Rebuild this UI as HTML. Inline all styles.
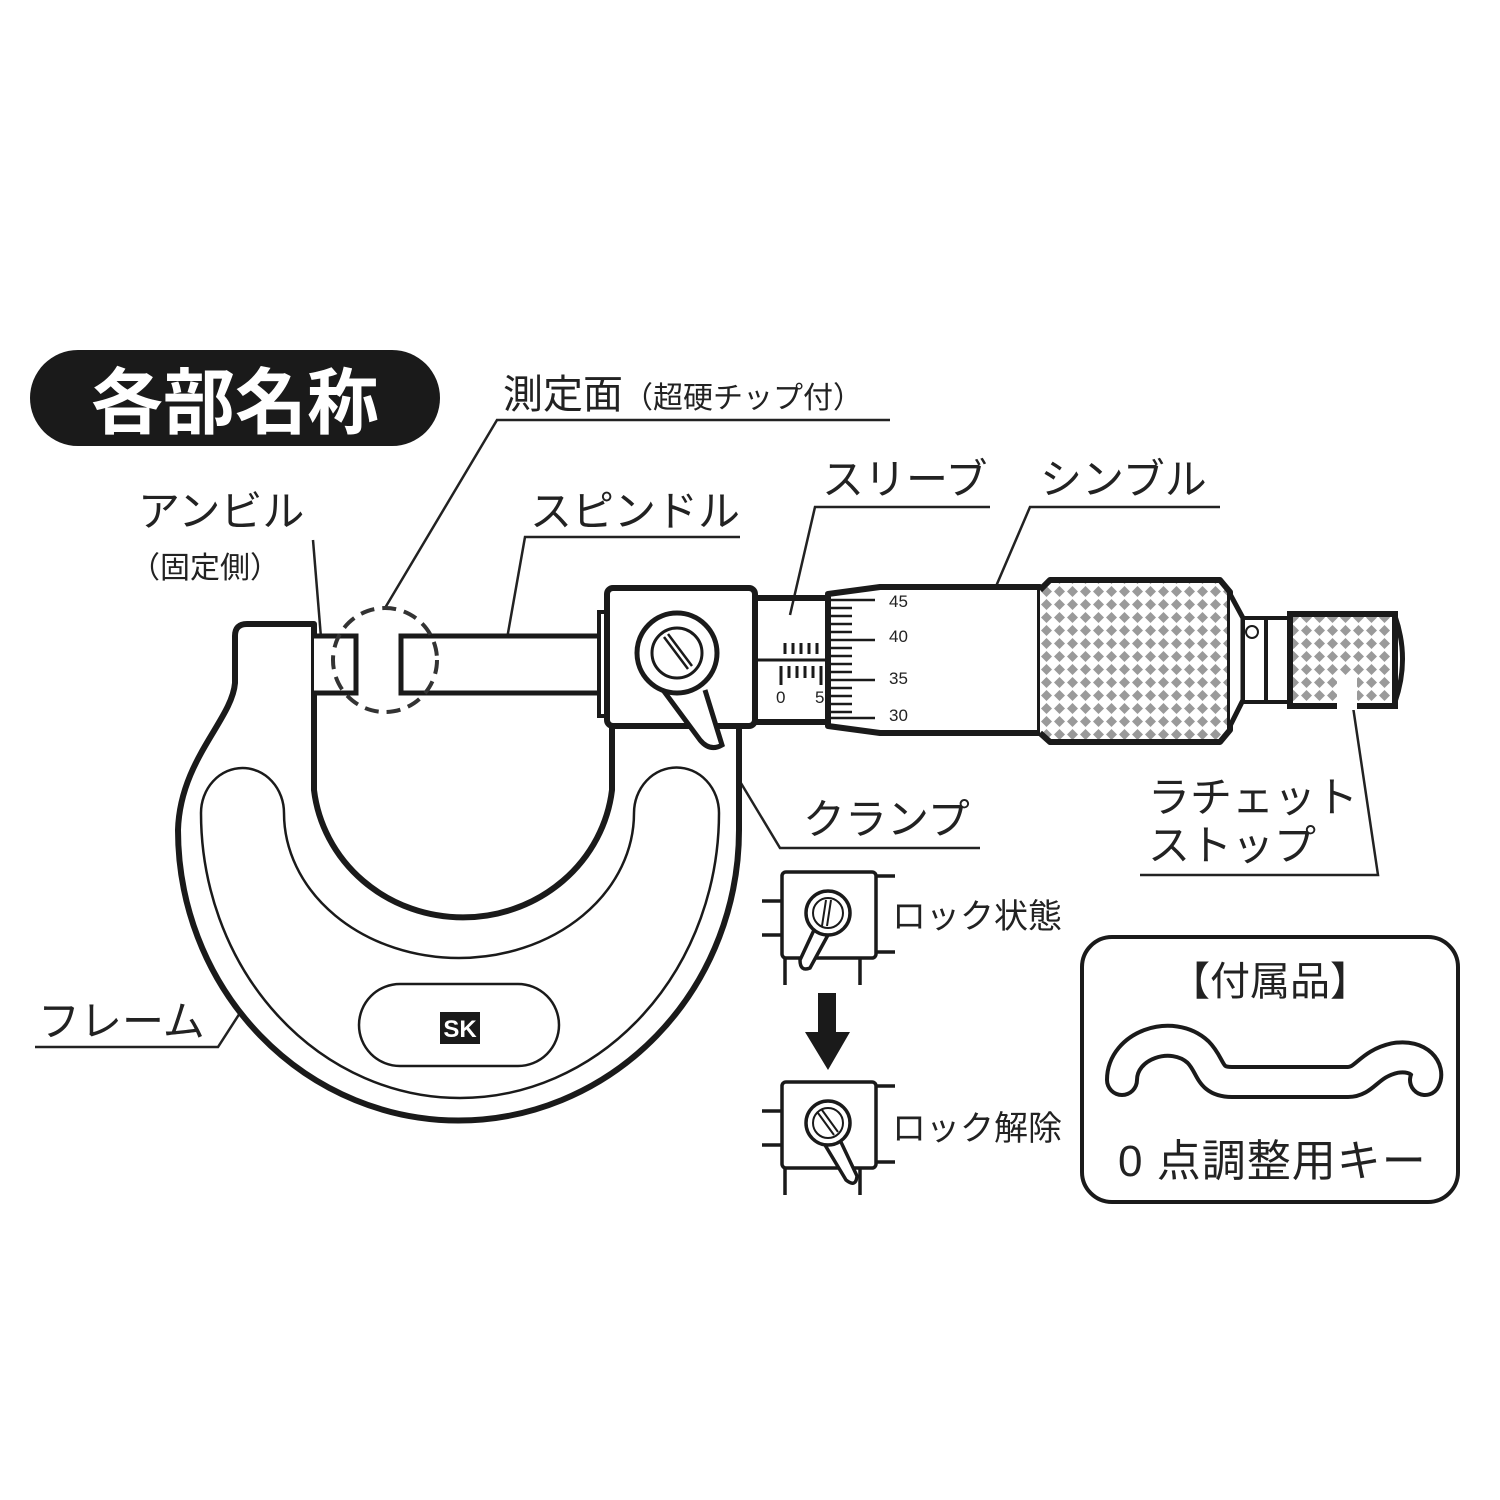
<!DOCTYPE html>
<html><head><meta charset="utf-8"><style>
html,body{margin:0;padding:0;background:#fff}
svg{display:block}
text{font-family:"Liberation Sans","Noto Sans CJK JP",sans-serif;fill:#222}
</style></head><body>
<svg width="1500" height="1500" viewBox="0 0 1500 1500" xmlns="http://www.w3.org/2000/svg">
<defs>
<pattern id="kn" width="13" height="13" patternUnits="userSpaceOnUse">
<rect width="13" height="13" fill="#fff"/>
<path d="M6.5 1 L12 6.5 L6.5 12 L1 6.5Z" fill="#9a9a9a"/>
</pattern>
</defs>

<!-- title -->
<rect x="30" y="350" width="410" height="96" rx="48" fill="#1a1a1a"/>
<text x="235" y="428" font-size="72" font-weight="bold" text-anchor="middle" style="fill:#fff">各部名称</text>

<!-- labels -->
<g stroke="#222" stroke-width="2.5" fill="none">
<path d="M890 420 H497 L385 608"/>
<path d="M313 540 L323 662"/>
<path d="M740 537 H525 L505 650"/>
<path d="M990 507 H815 L790 615"/>
<path d="M1220 507 H1030 L985 612"/>
<path d="M980 848 H780 L715 740"/>
<path d="M1140 875 H1378 L1352 700"/>
<path d="M35 1047 H218 L258 985"/>
</g>
<text x="503" y="408" font-size="40">測定面<tspan font-size="30">（超硬チップ付）</tspan></text>
<text x="138" y="526" font-size="42">アンビル</text>
<text x="130" y="578" font-size="30">（固定側）</text>
<text x="530" y="526" font-size="42">スピンドル</text>
<text x="822" y="494" font-size="42">スリーブ</text>
<text x="1040" y="494" font-size="42">シンブル</text>
<text x="803" y="834" font-size="42">クランプ</text>
<text x="1148" y="812" font-size="42">ラチェット</text>
<text x="1148" y="860" font-size="42">ストップ</text>
<text x="38" y="1036" font-size="42">フレーム</text>

<!-- frame -->
<path d="M314 693 V790 A150 144 0 0 0 612 790 V726 H739 V830 A280 290 0 0 1 178 830 C180 760 232 720 235 683 V636 Q235 624 247 624 H314 Z" fill="#fff" stroke="#1a1a1a" stroke-width="6" stroke-linejoin="round"/>
<path d="M284 813 A175 145 0 0 0 634 813 A42 45 0 0 1 719 813 A259 285 0 0 1 201 813 A41.5 45 0 0 1 284 813 Z" fill="none" stroke="#1a1a1a" stroke-width="2.5"/>
<rect x="359" y="984" width="200" height="82" rx="41" fill="none" stroke="#1a1a1a" stroke-width="2.5"/>
<rect x="440" y="1012" width="40" height="32" fill="#1a1a1a"/>
<text x="460" y="1037" font-size="24" text-anchor="middle" style="fill:#fff" font-weight="bold">SK</text>

<!-- anvil tip, spindle -->
<path d="M314 636 H356 V693 H314" fill="#fff" stroke="#1a1a1a" stroke-width="5"/>
<path d="M605 636 H401 V693 H605" fill="#fff" stroke="#1a1a1a" stroke-width="5"/>
<circle cx="385" cy="660" r="52" fill="none" stroke="#333" stroke-width="4" stroke-dasharray="14 8"/>

<!-- clamp body -->
<rect x="599" y="612" width="10" height="104" fill="#fff" stroke="#1a1a1a" stroke-width="4"/>
<rect x="607" y="588" width="148" height="138" rx="6" fill="#fff" stroke="#1a1a1a" stroke-width="6"/>
<path d="M663 690 L700 740 Q710 752 722 745 L705 690" fill="#fff" stroke="#1a1a1a" stroke-width="5"/>
<circle cx="677" cy="653" r="40" fill="#fff" stroke="#1a1a1a" stroke-width="5"/>
<circle cx="677" cy="653" r="25" fill="#fff" stroke="#1a1a1a" stroke-width="3"/>
<path d="M664 637 L688 669 M668 634 L692 666" stroke="#1a1a1a" stroke-width="2.5"/>

<!-- sleeve -->
<path d="M755 598 H830 M755 722 H830" stroke="#1a1a1a" stroke-width="6"/>
<line x1="755" y1="660" x2="830" y2="660" stroke="#1a1a1a" stroke-width="3"/>
<g stroke="#1a1a1a" stroke-width="3">
<path d="M785 643 V654 M793 643 V654 M801 643 V654 M809 643 V654 M817 643 V654"/>
<path d="M781 666 V685 M789 666 V678 M797 666 V678 M805 666 V678 M813 666 V678 M821 666 V685"/>
</g>
<text x="776" y="703" font-size="17">0</text><text x="815" y="703" font-size="17">5</text>

<!-- thimble -->
<path d="M828 594 L880 587 H1040 V733 H880 L828 726 Z" fill="#fff" stroke="#1a1a1a" stroke-width="6" stroke-linejoin="round"/>
<g stroke="#1a1a1a" stroke-width="2.5">
<path d="M830 600 H875 M830 608 H852 M830 616 H852 M830 624 H852 M830 632 H852 M830 640 H875 M830 648 H852 M830 656 H852 M830 664 H852 M830 672 H852 M830 680 H875 M830 688 H852 M830 696 H852 M830 704 H852 M830 712 H852 M830 718 H875"/>
</g>
<text x="889" y="607" font-size="17">45</text>
<text x="889" y="642" font-size="17">40</text>
<text x="889" y="684" font-size="17">35</text>
<text x="889" y="721" font-size="17">30</text>

<!-- knurl -->
<path d="M1040 590 L1050 580 H1220 L1230 592 V730 L1220 742 H1050 L1040 733" fill="url(#kn)" stroke="#1a1a1a" stroke-width="6" stroke-linejoin="round"/>
<path d="M1230 594 L1243 618 V700 L1230 726" fill="#fff" stroke="#1a1a1a" stroke-width="5"/>
<rect x="1243" y="618" width="23" height="84" fill="#fff" stroke="#1a1a1a" stroke-width="4"/>
<circle cx="1252" cy="632" r="6" fill="#fff" stroke="#1a1a1a" stroke-width="2"/>
<rect x="1266" y="618" width="24" height="84" fill="#fff" stroke="#1a1a1a" stroke-width="4"/>
<path d="M1395 616 Q1410 659 1395 702" fill="#fff" stroke="#1a1a1a" stroke-width="5"/>
<rect x="1290" y="614" width="105" height="92" fill="url(#kn)" stroke="#1a1a1a" stroke-width="6"/>
<rect x="1337" y="676" width="20" height="34" fill="#fff"/>

<!-- lock states -->
<g stroke="#1a1a1a" fill="none">
<g id="lk" stroke-width="3.5">
<path d="M762 901 H783 M762 935 H783 M876 876 H895 M876 952 H895 M785 958 V985 M860 958 V985"/>
<rect x="782" y="872" width="94" height="86" rx="4" fill="#fff"/>
</g>
<path d="M814 930 L800 960 Q800 972 810 968 L828 935" stroke-width="3.5" fill="#fff"/>
<circle cx="828" cy="913" r="22" stroke-width="3.5" fill="#fff"/>
<circle cx="828" cy="913" r="15" stroke-width="2"/>
<path d="M826 900 L822 926 M831 900 L827 926" stroke-width="2"/>

<use href="#lk" transform="translate(0,210)"/>
<path d="M822 1140 L846 1180 Q856 1188 857 1176 L840 1140" stroke-width="3.5" fill="#fff"/>
<circle cx="828" cy="1123" r="22" stroke-width="3.5" fill="#fff"/>
<circle cx="828" cy="1123" r="15" stroke-width="2"/>
<path d="M818 1113 L834 1135 M822 1110 L838 1132" stroke-width="2"/>
</g>
<path d="M818 993 H836 V1032 H850 L828 1070 L805 1032 H818 Z" fill="#1a1a1a"/>
<text x="892" y="928" font-size="34">ロック状態</text>
<text x="892" y="1140" font-size="34">ロック解除</text>

<!-- accessory -->
<rect x="1082" y="937" width="376" height="265" rx="30" fill="none" stroke="#1a1a1a" stroke-width="4"/>
<text x="1270" y="995" font-size="40" text-anchor="middle">【付属品】</text>
<path d="M1122 1080 C1122 1045 1172 1028 1198 1052 C1212 1066 1208 1082 1232 1082 L1348 1082 C1365 1082 1368 1064 1395 1058 C1420 1054 1430 1070 1425 1080" fill="none" stroke="#1a1a1a" stroke-width="34" stroke-linecap="round" stroke-linejoin="round"/>
<path d="M1122 1080 C1122 1045 1172 1028 1198 1052 C1212 1066 1208 1082 1232 1082 L1348 1082 C1365 1082 1368 1064 1395 1058 C1420 1054 1430 1070 1425 1080" fill="none" stroke="#fff" stroke-width="26" stroke-linecap="round" stroke-linejoin="round"/>
<text x="1118" y="1176" font-size="44" letter-spacing="1">0 点調整用キー</text>
</svg>
</body></html>
